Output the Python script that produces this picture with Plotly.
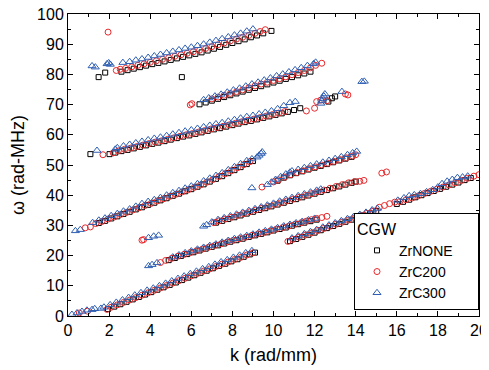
import plotly.graph_objects as go

# ---- ZrNONE (open black squares): (k [rad/mm], omega [rad-MHz]) ----
ZRNONE = [
    # branch 1
    (1.95, 2.3), (2.25, 3.1), (2.55, 3.9), (2.85, 4.7), (3.15, 5.5), (3.45, 6.3), (3.75, 7.1), (4.05, 7.9),
    (4.35, 8.7), (4.65, 9.5), (4.95, 10.3), (5.25, 11.1), (5.55, 11.9), (5.85, 12.7), (6.15, 13.5), (6.45, 14.3),
    (6.75, 15.0), (7.05, 15.8), (7.35, 16.6), (7.65, 17.3), (7.95, 18.1), (8.25, 18.8), (8.55, 19.6), (8.85, 20.4), (9.1, 21.0),
    # branch 2
    (10.8, 24.8), (11.1, 25.5), (11.4, 26.2), (11.7, 26.9), (12.0, 27.6), (12.3, 28.4), (12.6, 29.1), (12.9, 29.8),
    (13.2, 30.5), (13.5, 31.2), (13.8, 31.9), (14.1, 32.6), (14.4, 33.3), (14.7, 34.0), (15.0, 34.8),
    (16.0, 37.1), (16.3, 37.8), (16.6, 38.5), (16.9, 39.3), (17.2, 40.0), (17.5, 40.7), (17.8, 41.4), (18.1, 42.1),
    (18.4, 42.8), (18.7, 43.5), (19.0, 44.2), (19.3, 45.0), (19.6, 45.7),
    # branch 3
    (4.9, 18.5), (5.2, 19.2), (5.5, 19.9), (5.8, 20.5), (6.1, 21.1), (6.4, 21.7), (6.7, 22.3), (7.0, 22.9),
    (7.3, 23.4), (7.6, 24.0), (7.9, 24.6), (8.2, 25.1), (8.5, 25.6), (8.8, 26.2), (9.1, 26.7), (9.4, 27.2),
    (9.7, 27.7), (10.0, 28.3), (10.3, 28.8), (10.6, 29.3), (10.9, 29.9), (11.2, 30.4), (11.5, 30.9), (11.8, 31.4), (12.1, 31.9),
    # branch 4
    (1.5, 30.8), (1.8, 31.5), (2.1, 32.3), (2.4, 33.0), (2.7, 33.8), (3.0, 34.5), (3.3, 35.3), (3.6, 36.0),
    (3.9, 36.8), (4.2, 37.5), (4.5, 38.3), (4.8, 39.0), (5.1, 39.8), (5.4, 40.5), (5.7, 41.3), (6.0, 42.0),
    (6.3, 42.8), (6.6, 43.6), (6.9, 44.5), (7.2, 45.4), (7.5, 46.3), (7.8, 47.3), (8.1, 48.3), (8.4, 49.3), (8.7, 50.3), (9.0, 51.3),
    # line A
    (7.2, 30.9), (7.5, 31.5), (7.8, 32.1), (8.1, 32.7), (8.4, 33.3), (8.7, 33.9), (9.0, 34.5), (9.3, 35.1),
    (9.6, 35.7), (9.9, 36.3), (10.2, 36.9), (10.5, 37.5), (10.8, 38.1), (11.1, 38.7), (11.4, 39.3), (11.7, 39.9),
    (12.0, 40.5), (12.3, 41.1), (12.6, 41.7), (12.9, 42.3), (13.2, 42.9), (13.5, 43.5), (13.8, 44.1), (14.0, 44.5),
    # branch C
    (10.2, 44.8), (10.5, 45.8), (10.8, 46.6), (11.1, 47.3), (11.4, 47.9), (11.7, 48.5), (12.0, 49.1), (12.3, 49.7),
    (12.6, 50.3), (12.9, 50.9), (13.2, 51.5), (13.5, 52.1), (13.8, 52.7),
    # branch 5
    (1.09, 53.6), (2.02, 53.6), (2.3, 54.1), (2.6, 54.6), (2.9, 55.0), (3.2, 55.5), (3.5, 56.0), (3.8, 56.5),
    (4.1, 57.0), (4.4, 57.4), (4.7, 57.9), (5.0, 58.4), (5.3, 58.9), (5.6, 59.4), (5.9, 59.8), (6.2, 60.3),
    (6.5, 60.8), (6.8, 61.3), (7.1, 61.8), (7.4, 62.2), (7.7, 62.7), (8.0, 63.2), (8.3, 63.7), (8.6, 64.2),
    (8.9, 64.6), (9.2, 65.1), (9.5, 65.6), (9.8, 66.1), (10.1, 66.6), (10.4, 67.1), (10.7, 67.6), (11.0, 68.2), (11.3, 68.8),
    (12.67, 71.0), (12.84, 72.1), (13.0, 72.7),
    # branch 6
    (6.4, 70.1), (6.7, 70.7), (7.0, 71.3), (7.3, 71.9), (7.6, 72.5), (7.9, 73.1), (8.2, 73.7), (8.5, 74.3),
    (8.8, 74.9), (9.1, 75.5), (9.4, 76.1), (9.7, 76.7), (10.0, 77.3), (10.3, 77.9), (10.6, 78.5), (10.9, 79.1),
    (11.2, 79.7), (11.5, 80.3), (11.8, 80.9),
    # branch 7
    (1.49, 79.1), (1.81, 80.6), (5.54, 79.1),
    (2.6, 80.9), (2.9, 81.4), (3.2, 81.9), (3.5, 82.4), (3.8, 82.9), (4.1, 83.4), (4.4, 83.8), (4.7, 84.3),
    (5.0, 84.8), (5.3, 85.3), (5.6, 85.8), (5.9, 86.3), (6.2, 86.8), (6.5, 87.3), (6.8, 87.9), (7.1, 88.5),
    (7.4, 89.1), (7.7, 89.8), (8.0, 90.4), (8.3, 91.0), (8.6, 91.6), (8.9, 92.3), (9.2, 92.9), (9.5, 93.6), (9.9, 94.4),
]

# ---- ZrC200 (open red circles) ----
ZRC200 = [
    # branch 1
    (0.55, 1.0), (0.95, 1.6),
    (1.9, 2.2), (2.1, 2.9), (2.4, 3.7), (2.7, 4.5), (3.0, 5.3), (3.3, 6.1), (3.6, 6.9), (3.9, 7.7), (4.2, 8.5),
    (4.5, 9.3), (4.8, 10.1), (5.1, 10.9), (5.4, 11.7), (5.7, 12.5), (6.0, 13.3), (6.3, 14.1), (6.6, 14.9),
    (6.9, 15.6), (7.2, 16.4), (7.5, 17.2), (7.8, 17.9), (8.1, 18.7), (8.4, 19.4), (8.7, 20.2), (9.0, 20.9),
    # branch 2
    (10.7, 24.7), (10.95, 25.4), (11.25, 26.1), (11.55, 26.8), (11.85, 27.5), (12.15, 28.3), (12.45, 29.0),
    (12.75, 29.7), (13.05, 30.4), (13.35, 31.1), (13.65, 31.8), (13.95, 32.5), (14.25, 33.3), (14.55, 34.0),
    (14.85, 34.7), (15.15, 36.0), (15.4, 36.6), (15.65, 37.2), (15.9, 37.7), (16.15, 37.9), (16.45, 38.5),
    (16.75, 39.1), (17.05, 39.8), (17.35, 40.6), (17.65, 41.3), (17.95, 42.0), (18.25, 42.7), (18.55, 43.4),
    (18.85, 44.1), (19.15, 44.9), (19.45, 45.6), (19.75, 46.3), (20.0, 46.8),
    # branch 3
    (3.6, 25.1), (3.68, 25.3),
    (4.5, 17.7), (4.75, 18.4), (5.05, 19.1), (5.35, 19.8), (5.65, 20.4), (5.95, 21.0), (6.25, 21.6), (6.55, 22.2),
    (6.85, 22.8), (7.15, 23.4), (7.45, 23.9), (7.75, 24.5), (8.05, 25.1), (8.35, 25.6), (8.65, 26.1), (8.95, 26.7),
    (9.25, 27.2), (9.55, 27.7), (9.85, 28.2), (10.15, 28.8), (10.45, 29.3), (10.75, 29.8), (11.05, 30.4),
    (11.35, 30.9), (11.6, 31.4), (11.85, 31.9), (12.1, 32.3), (12.35, 32.6), (12.6, 33.0),
    # branch 4
    (0.84, 29.2), (1.09, 29.5), (1.35, 30.6), (1.65, 31.3), (1.95, 32.1), (2.25, 32.8), (2.55, 33.6), (2.85, 34.3),
    (3.15, 35.1), (3.45, 35.8), (3.75, 36.6), (4.05, 37.3), (4.35, 38.1), (4.65, 38.8), (4.95, 39.6), (5.25, 40.3),
    (5.55, 41.1), (5.85, 41.8), (6.15, 42.6), (6.45, 43.4), (6.75, 44.3), (7.05, 45.2), (7.35, 46.2), (7.65, 47.1),
    (7.95, 48.1), (8.25, 49.1), (8.55, 50.1), (8.85, 51.1),
    # line A
    (7.1, 30.9), (7.35, 31.5), (7.65, 32.1), (7.95, 32.7), (8.25, 33.3), (8.55, 33.9), (8.85, 34.5), (9.15, 35.1),
    (9.45, 35.7), (9.75, 36.3), (10.05, 36.9), (10.35, 37.5), (10.65, 38.1), (10.95, 38.7), (11.25, 39.3),
    (11.55, 39.9), (11.85, 40.5), (12.15, 41.1), (12.45, 41.7), (12.75, 42.3), (13.05, 42.9), (13.35, 43.5),
    (13.65, 44.1), (13.95, 44.5), (14.2, 44.6), (14.4, 44.9), (15.27, 47.3), (15.5, 47.7),
    # branch C
    (9.44, 42.7), (10.0, 44.4), (10.25, 45.1), (10.55, 46.0), (10.85, 46.8), (11.15, 47.5), (11.45, 48.1),
    (11.75, 48.8), (12.05, 49.4), (12.35, 50.0), (12.65, 50.6), (12.95, 51.2), (13.25, 51.8), (13.55, 52.4),
    (13.85, 53.0), (14.0, 53.4),
    # branch 5
    (1.7, 53.4), (2.2, 54.0), (2.45, 54.7), (2.75, 55.2), (3.05, 55.6), (3.35, 56.1), (3.65, 56.6), (3.95, 57.1),
    (4.25, 57.6), (4.55, 58.0), (4.85, 58.5), (5.15, 59.0), (5.45, 59.5), (5.75, 60.0), (6.05, 60.4), (6.35, 60.9),
    (6.65, 61.4), (6.95, 61.9), (7.25, 62.4), (7.55, 62.8), (7.85, 63.3), (8.15, 63.8), (8.45, 64.3), (8.75, 64.8),
    (9.05, 65.2), (9.35, 65.7), (9.65, 66.2), (9.95, 66.7), (10.25, 67.2), (10.55, 67.7),
    (11.6, 67.9), (12.0, 68.8), (12.1, 71.0), (12.3, 71.5), (12.6, 71.3), (13.5, 73.5), (13.62, 73.2),
    # branch 6
    (5.95, 69.9), (6.03, 70.3),
    (7.0, 71.9), (7.3, 72.5), (7.6, 73.1), (7.9, 73.7), (8.2, 74.3), (8.5, 74.9), (8.8, 75.6), (9.1, 76.2),
    (9.4, 76.8), (9.7, 77.4), (10.0, 78.0), (10.3, 78.6), (10.6, 79.2), (10.9, 79.9), (11.2, 80.6), (11.5, 81.3),
    (11.8, 82.2), (12.05, 83.0), (12.35, 83.7),
    # branch 7
    (1.95, 94.0), (2.35, 81.3), (2.54, 81.7),
    (2.8, 82.0), (3.1, 82.5), (3.4, 83.0), (3.7, 83.5), (4.0, 84.0), (4.3, 84.5), (4.6, 85.0), (4.9, 85.5),
    (5.2, 86.0), (5.5, 86.5), (5.8, 87.0), (6.1, 87.5), (6.4, 88.0), (6.7, 88.6), (7.0, 89.2), (7.3, 89.8),
    (7.6, 90.4), (7.9, 91.1), (8.2, 91.7), (8.5, 92.3), (8.8, 92.9), (9.1, 93.6), (9.35, 94.2), (9.6, 94.8),
]

# ---- ZrC300 (open blue triangles) ----
ZRC300 = [
    # branch 1
    (0.19, 0.5), (0.44, 1.0), (0.68, 1.5), (0.92, 1.9), (1.17, 2.1), (1.3, 2.4), (1.6, 2.5), (1.75, 2.9),
    (2.05, 3.7), (2.35, 4.5), (2.65, 5.3), (2.95, 6.1), (3.25, 6.9), (3.55, 7.7), (3.85, 8.5), (4.15, 9.2),
    (4.45, 10.0), (4.75, 10.8), (5.05, 11.6), (5.35, 12.4), (5.65, 13.2), (5.95, 14.0), (6.25, 14.8), (6.55, 15.6),
    (6.85, 16.3), (7.15, 17.1), (7.45, 17.9), (7.75, 18.6), (8.05, 19.4), (8.35, 20.1), (8.65, 20.9), (8.95, 21.6),
    # branch 2
    (10.9, 25.8), (11.2, 26.5), (11.5, 27.2), (11.8, 27.9), (12.1, 28.6), (12.4, 29.4), (12.7, 30.1), (13.0, 30.8),
    (13.3, 31.5), (13.6, 32.2), (13.9, 32.9), (14.2, 33.6), (14.5, 34.3), (14.8, 35.1), (15.05, 35.6),
    (16.05, 38.3), (16.35, 39.1), (16.6, 39.8), (16.85, 40.1), (17.15, 40.5), (17.45, 41.1), (17.75, 41.8),
    (18.0, 42.7), (18.2, 43.8), (18.45, 44.6), (18.7, 45.2), (18.95, 45.8), (19.2, 46.0), (19.45, 46.3),
    # branch 3
    (3.92, 16.6), (4.09, 17.0), (4.33, 17.6),
    (3.92, 25.9), (4.17, 26.4), (4.41, 26.7),
    (5.1, 19.5), (5.4, 20.2), (5.7, 20.9), (6.0, 21.5), (6.3, 22.1), (6.6, 22.7), (6.9, 23.3), (7.2, 23.8),
    (7.5, 24.4), (7.8, 25.0), (8.1, 25.6), (8.4, 26.1), (8.7, 26.6), (9.0, 27.1), (9.3, 27.7), (9.6, 28.2),
    (9.9, 28.7), (10.2, 29.2), (10.5, 29.8), (10.8, 30.3), (11.1, 30.8), (11.4, 31.3), (11.7, 31.8), (12.0, 32.3),
    # branch 4
    (0.36, 28.2), (0.6, 28.6),
    (1.2, 30.9), (1.5, 31.7), (1.8, 32.4), (2.1, 33.2), (2.4, 33.9), (2.7, 34.7), (3.0, 35.4), (3.3, 36.3),
    (3.6, 37.2), (3.9, 37.9), (4.2, 38.5), (4.5, 39.2), (4.8, 40.0), (5.1, 40.8), (5.4, 41.5), (5.7, 42.3),
    (6.0, 43.0), (6.3, 43.8), (6.6, 44.7), (6.9, 45.6), (7.2, 46.5), (7.5, 47.4), (7.8, 48.4), (8.1, 49.4),
    (8.4, 50.4), (8.7, 51.4), (8.95, 52.0), (9.2, 52.6), (9.3, 53.2), (9.4, 53.8), (9.45, 54.3),
    # line A
    (6.6, 29.7), (6.75, 30.2), (7.0, 31.1), (7.3, 31.9), (7.6, 32.5), (7.9, 33.1), (8.2, 33.7), (8.5, 34.3),
    (8.8, 34.9), (9.1, 35.5), (9.4, 36.1), (9.7, 36.7), (10.0, 37.3), (10.3, 38.0), (10.6, 38.6), (10.9, 39.2),
    (11.2, 39.8), (11.5, 40.4), (11.8, 41.0), (12.1, 41.6), (12.3, 42.0),
    # branch C
    (8.95, 42.4), (9.7, 43.5), (9.9, 44.3), (10.1, 45.2), (10.35, 46.1), (10.6, 47.0), (10.8, 47.6), (10.9, 48.0),
    (11.2, 48.5), (11.5, 49.1), (11.8, 49.7), (12.1, 50.3), (12.4, 50.9), (12.7, 51.5), (13.0, 52.1), (13.3, 52.7),
    (13.6, 53.4), (13.85, 54.0), (14.05, 54.5),
    # branch 5
    (1.41, 54.8), (2.3, 55.2), (2.4, 55.7), (2.7, 56.3), (3.0, 56.8), (3.3, 57.3), (3.6, 57.8), (3.9, 58.3),
    (4.2, 58.8), (4.5, 59.2), (4.8, 59.7), (5.1, 60.2), (5.4, 60.7), (5.7, 61.2), (6.0, 61.6), (6.3, 62.1),
    (6.6, 62.6), (6.9, 63.1), (7.2, 63.6), (7.5, 64.0), (7.8, 64.5), (8.1, 65.0), (8.4, 65.5), (8.7, 66.0),
    (9.0, 66.4), (9.3, 66.9), (9.6, 67.4), (9.9, 67.9), (10.2, 68.6), (10.5, 69.6), (10.8, 70.6), (11.06, 71.0),
    (12.3, 70.4), (12.35, 71.2), (12.4, 72.0), (12.45, 72.8), (12.5, 73.5), (13.33, 74.3), (14.3, 77.6), (14.42, 77.7),
    # branch 6
    (6.6, 71.6), (6.85, 72.2), (7.15, 72.8), (7.45, 73.4), (7.75, 74.1), (8.05, 74.8), (8.35, 75.4), (8.65, 76.1),
    (8.95, 76.8), (9.25, 77.4), (9.55, 78.1), (9.85, 78.8), (10.15, 79.5), (10.45, 80.1), (10.75, 80.8),
    (11.05, 81.5), (11.35, 82.2), (11.65, 82.9), (11.95, 83.5), (12.05, 84.0),
    # branch 7
    (1.17, 82.8), (1.33, 82.4), (1.9, 83.5), (1.98, 83.8), (2.06, 83.3), (2.67, 83.9),
    (3.0, 84.2), (3.3, 84.7), (3.6, 85.1), (3.9, 85.6), (4.2, 86.1), (4.5, 86.6), (4.8, 87.1), (5.1, 87.6),
    (5.4, 88.1), (5.7, 88.6), (6.0, 89.0), (6.3, 89.5), (6.6, 90.0), (6.9, 90.6), (7.2, 91.2), (7.5, 91.8),
    (7.8, 92.4), (8.1, 93.0), (8.4, 93.6), (8.7, 94.3), (9.0, 95.0),
]

X_TICKS = [0, 2, 4, 6, 8, 10, 12, 14, 16, 18, 20]
Y_TICKS = [0, 10, 20, 30, 40, 50, 60, 70, 80, 90, 100]

FONT = "Liberation Sans, Arial, sans-serif"
PAD = "\u00a0\u00a0\u00a0\u00a0\u00a0"  # invisible right padding inside the legend box

fig = go.Figure()
series = [
    ("ZrNONE", ZRNONE, "square-open", "#000000", 5),
    ("ZrC200", ZRC200, "circle-open", "#e8282b", 6),
    ("ZrC300", ZRC300, "triangle-up-open", "#2f5fb3", 7),
]
for name, pts, sym, col, sz in series:
    fig.add_trace(go.Scatter(
        x=[p[0] for p in pts], y=[p[1] for p in pts], mode="markers", name=name + PAD,
        marker=dict(symbol=sym, size=sz, color=col, line=dict(color=col, width=1)),
    ))

axis_common = dict(
    showline=True, linecolor="black", linewidth=1, mirror="allticks",
    ticks="inside", ticklen=5, tickcolor="black", tickwidth=1,
    showgrid=False, zeroline=False, automargin=False, ticklabeloverflow="allow",
    tickfont=dict(family=FONT, size=16, color="black"),
    minor=dict(ticks="inside", ticklen=3, tickcolor="black", tickwidth=1, showgrid=False),
)
fig.update_xaxes(range=[0, 20], tickvals=X_TICKS, minor_dtick=1,
                 title=dict(text="k (rad/mm)", font=dict(family=FONT, size=18, color="black"), standoff=10),
                 **axis_common)
fig.update_yaxes(range=[0, 100], tickvals=Y_TICKS, minor_dtick=5,
                 title=dict(text="ω (rad-MHz)", font=dict(family=FONT, size=18, color="black"), standoff=8),
                 **axis_common)

# the page adds an 8 px body margin, so the figure is sized and offset to compensate
fig.update_layout(
    width=481, height=362,
    margin=dict(l=60, r=10, t=6, b=54, autoexpand=False),
    paper_bgcolor="white", plot_bgcolor="white",
    font=dict(family=FONT, color="black"),
    legend=dict(
        title=dict(text="CGW", font=dict(family=FONT, size=16)),
        font=dict(family=FONT, size=14),
        x=1, xanchor="right", y=0.02, yanchor="bottom",
        bordercolor="black", borderwidth=1, bgcolor="white",
        itemwidth=34, tracegroupgap=0,
    ),
)

fig.write_html("out.html")
